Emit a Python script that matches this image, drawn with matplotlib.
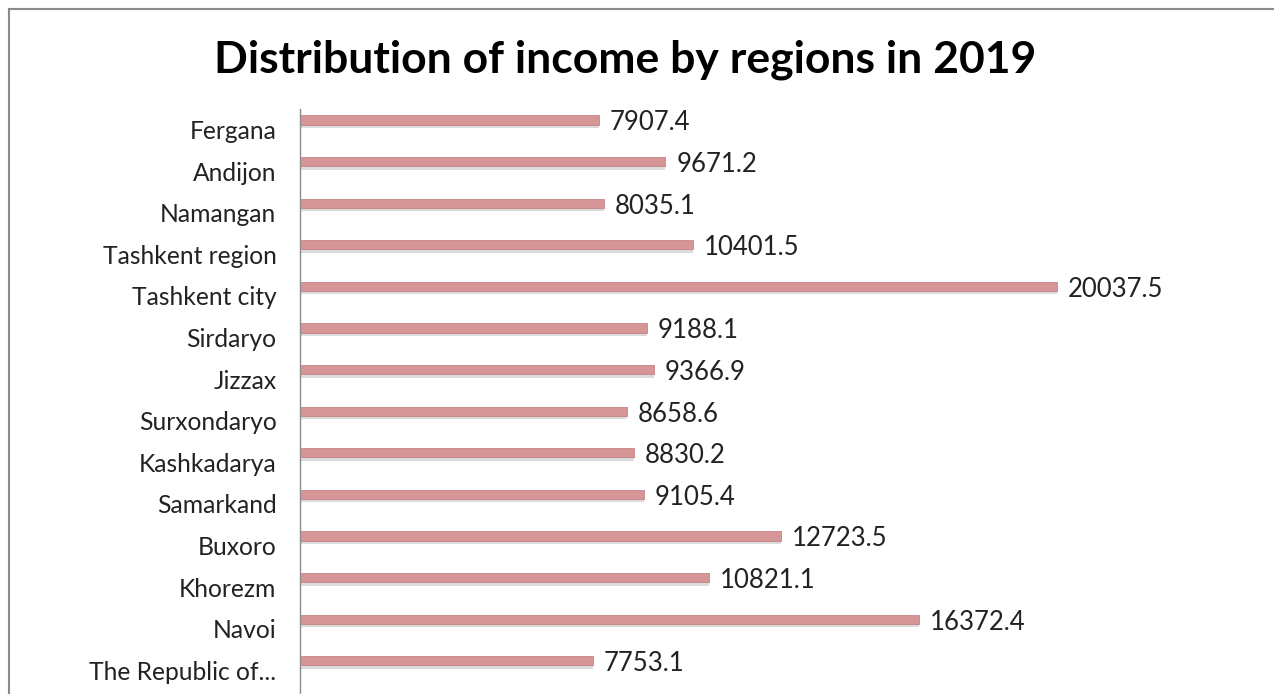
import matplotlib.pyplot as plt
from matplotlib.lines import Line2D

regions = ['Fergana', 'Andijon', 'Namangan', 'Tashkent region', 'Tashkent city',
           'Sirdaryo', 'Jizzax', 'Surxondaryo', 'Kashkadarya', 'Samarkand',
           'Buxoro', 'Khorezm', 'Navoi', 'The Republic of...']
income = [7907.4, 9671.2, 8035.1, 10401.5, 20037.5, 9188.1, 9366.9,
          8658.6, 8830.2, 9105.4, 12723.5, 10821.1, 16372.4, 7753.1]

plt.rcParams['font.family'] = ['Lato', 'DejaVu Sans']

fig = plt.figure(figsize=(12.74, 6.94), dpi=100)
ax = fig.add_axes([300 / 1274, 0, 944.5 / 1274, 1 - 109 / 694])

pos = list(range(len(regions)))
# soft shadow under each bar
ax.barh([p + 0.08 for p in pos], income, height=0.22, color='#9a9a9a', alpha=0.35, zorder=1)
ax.barh(pos, income, height=0.22, color='#d69596', edgecolor='#c48586', linewidth=0.6, zorder=2)

for p, v in zip(pos, income):
    ax.text(v + 290, p + 0.07, f'{v:.1f}', va='center', ha='left', fontsize=18.5, color='#222222')

# category labels sit a little below the bar centres, as in the original
ax.set_yticks([p + 0.23 for p in pos])
ax.set_yticklabels(regions, fontsize=17.7, color='#222222')
ax.tick_params(axis='y', length=0, pad=17)
ax.set_xlim(0, 25000)
ax.set_ylim((694 - 120) / 41.6, -(120 - 109) / 41.6)
ax.set_xticks([])
for s in ['top', 'right', 'bottom']:
    ax.spines[s].set_visible(False)
ax.spines['left'].set_color('#8c8c8c')
ax.spines['left'].set_linewidth(1)

fig.text(625 / 1274, 1 - 60 / 694, 'Distribution of income by regions in 2019',
         ha='center', va='center', fontsize=32, fontweight='bold', color='black')

# outer chart border (top and left edges visible)
fig.add_artist(Line2D([9 / 1274, 1], [1 - 9 / 694, 1 - 9 / 694], transform=fig.transFigure,
                      color='#8a8a8a', linewidth=1.5))
fig.add_artist(Line2D([9 / 1274, 9 / 1274], [0, 1 - 9 / 694], transform=fig.transFigure,
                      color='#8a8a8a', linewidth=1.5))

fig.savefig('out.png', dpi=100)
